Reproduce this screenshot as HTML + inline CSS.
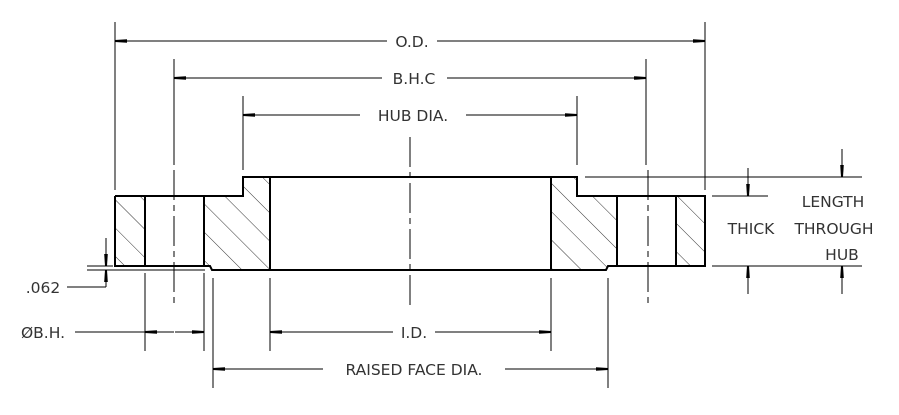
<!DOCTYPE html>
<html><head><meta charset="utf-8"><style>
html,body{margin:0;padding:0;background:#fff;}
svg{display:block;}
text{font-family:"DejaVu Sans","Liberation Sans",sans-serif;font-size:15.5px;fill:#333;}
</style></head><body>
<svg width="899" height="415" viewBox="0 0 899 415" xmlns="http://www.w3.org/2000/svg">
<defs>
<pattern id="h" patternUnits="userSpaceOnUse" width="20" height="20" patternTransform="rotate(-45)">
<line x1="0" y1="0" x2="0" y2="20" stroke="#000" stroke-width="0.8"/>
</pattern>
<marker id="a" markerWidth="12" markerHeight="6" refX="12" refY="3" orient="auto" markerUnits="userSpaceOnUse">
<path d="M0,1.2 L12,2 L12,4 L0,4.8 Z" fill="#000"/>
</marker>
</defs>
<g fill="url(#h)">
<rect x="115" y="196" width="30" height="70"/>
<polygon points="204,196 243,196 243,177 270,177 270,270 214,270 212,266 204,266"/>
<polygon points="551,177 577,177 577,196 617,196 617,266 608,266 606,270 551,270"/>
<rect x="676" y="196" width="29" height="70"/>
</g>
<g fill="none" stroke="#000" stroke-width="2">
<polyline points="115,196 243,196 243,177 577,177 577,196 705,196 705,266 608,266 606,270 212,270 210,266 115,266 115,196"/>
<line x1="145" y1="196" x2="145" y2="266"/>
<line x1="204" y1="196" x2="204" y2="266"/>
<line x1="270" y1="177" x2="270" y2="270"/>
<line x1="551" y1="177" x2="551" y2="270"/>
<line x1="617" y1="196" x2="617" y2="266"/>
<line x1="676" y1="196" x2="676" y2="266"/>
</g>
<g stroke="#000" stroke-width="1" stroke-dasharray="30,5,6,5">
<line x1="410" y1="137" x2="410" y2="310"/>
<line x1="174" y1="170" x2="174" y2="303"/>
<line x1="648" y1="170" x2="648" y2="303"/>
</g>
<g stroke="#000" stroke-width="1">
<line x1="115" y1="22" x2="115" y2="190"/>
<line x1="705" y1="22" x2="705" y2="190"/>
<line x1="174" y1="59" x2="174" y2="165"/>
<line x1="646" y1="59" x2="646" y2="165"/>
<line x1="243" y1="96" x2="243" y2="170"/>
<line x1="577" y1="96" x2="577" y2="165"/>
<line x1="145" y1="273" x2="145" y2="351"/>
<line x1="204" y1="273" x2="204" y2="351"/>
<line x1="213" y1="278" x2="213" y2="388"/>
<line x1="608" y1="278" x2="608" y2="388"/>
<line x1="270" y1="278" x2="270" y2="351"/>
<line x1="551" y1="278" x2="551" y2="351"/>
<line x1="585" y1="177" x2="862" y2="177"/>
<line x1="712" y1="196" x2="768" y2="196"/>
<line x1="712" y1="266" x2="862" y2="266"/>
<line x1="87" y1="266" x2="113" y2="266"/>
<line x1="87" y1="270" x2="205" y2="270"/>
</g>
<g stroke="#000" stroke-width="1">
<line x1="387" y1="41" x2="115" y2="41" marker-end="url(#a)"/>
<line x1="437" y1="41" x2="705" y2="41" marker-end="url(#a)"/>
<line x1="382" y1="78" x2="174" y2="78" marker-end="url(#a)"/>
<line x1="447" y1="78" x2="646" y2="78" marker-end="url(#a)"/>
<line x1="360" y1="115" x2="243" y2="115" marker-end="url(#a)"/>
<line x1="466" y1="115" x2="577" y2="115" marker-end="url(#a)"/>
<line x1="393" y1="332" x2="270" y2="332" marker-end="url(#a)"/>
<line x1="435" y1="332" x2="551" y2="332" marker-end="url(#a)"/>
<line x1="323" y1="369" x2="213" y2="369" marker-end="url(#a)"/>
<line x1="505" y1="369" x2="608" y2="369" marker-end="url(#a)"/>
<line x1="75" y1="332" x2="145" y2="332"/>
<line x1="174" y1="332" x2="145" y2="332" marker-end="url(#a)"/>
<line x1="175" y1="332" x2="204" y2="332" marker-end="url(#a)"/>
<line x1="106" y1="238" x2="106" y2="266" marker-end="url(#a)"/>
<line x1="106" y1="287" x2="106" y2="270" marker-end="url(#a)"/>
<line x1="67" y1="287" x2="106" y2="287"/>
<line x1="748" y1="168" x2="748" y2="196" marker-end="url(#a)"/>
<line x1="748" y1="294" x2="748" y2="266" marker-end="url(#a)"/>
<line x1="842" y1="149" x2="842" y2="177" marker-end="url(#a)"/>
<line x1="842" y1="294" x2="842" y2="266" marker-end="url(#a)"/>
</g>
<text x="412" y="47" text-anchor="middle">O.D.</text>
<text x="414" y="84" text-anchor="middle">B.H.C</text>
<text x="413" y="121" text-anchor="middle">HUB DIA.</text>
<text x="414" y="338" text-anchor="middle">I.D.</text>
<text x="414" y="375" text-anchor="middle">RAISED FACE DIA.</text>
<text x="43" y="293" text-anchor="middle">.062</text>
<text x="43" y="338" text-anchor="middle">ØB.H.</text>
<text x="751" y="234" text-anchor="middle">THICK</text>
<text x="833" y="207" text-anchor="middle">LENGTH</text>
<text x="834" y="234" text-anchor="middle">THROUGH</text>
<text x="842" y="260" text-anchor="middle">HUB</text>
</svg>
</body></html>
